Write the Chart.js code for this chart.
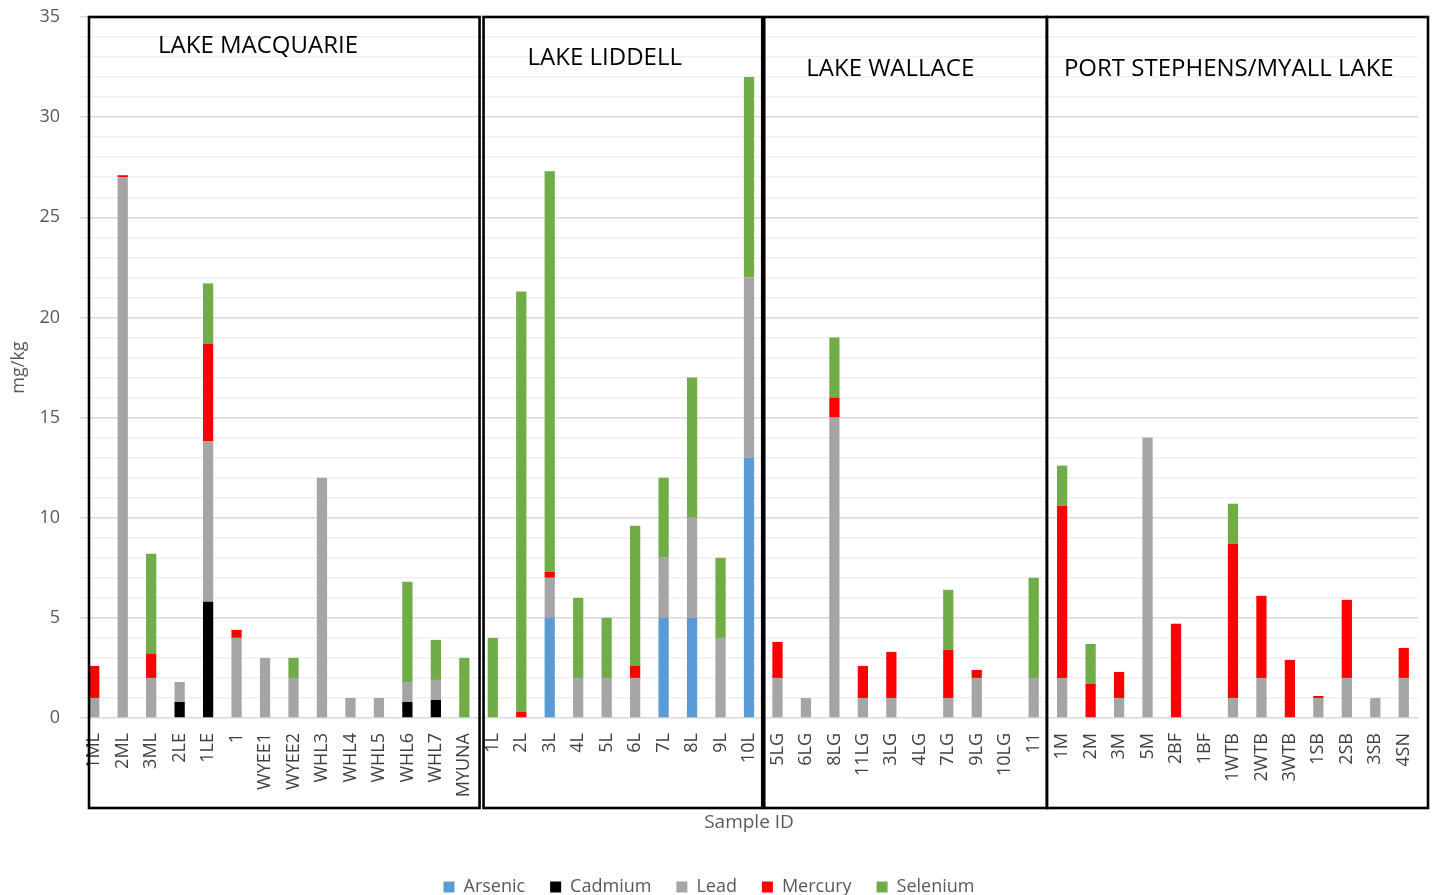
<!DOCTYPE html>
<html>
<head>
<meta charset="utf-8">
<script src="https://cdn.jsdelivr.net/npm/chart.js@4/dist/chart.umd.min.js"></script>
<style>
  html, body { margin: 0; padding: 0; background: #fff; }
  #wrap { width: 1434px; height: 895px; }
</style>
</head>
<body>
<div id="wrap"><canvas id="chart"></canvas></div>
<script>
// sample sites, grouped by lake
const groupNames = ['LAKE MACQUARIE', 'LAKE LIDDELL', 'LAKE WALLACE', 'PORT STEPHENS/MYALL LAKE'];
const groupSizes = [14, 10, 10, 13];

const sampleIds = [
  '1ML', '2ML', '3ML', '2LE', '1LE', '1', 'WYEE1', 'WYEE2', 'WHL3', 'WHL4', 'WHL5', 'WHL6', 'WHL7', 'MYUNA',
  '1L', '2L', '3L', '4L', '5L', '6L', '7L', '8L', '9L', '10L',
  '5LG', '6LG', '8LG', '11LG', '3LG', '4LG', '7LG', '9LG', '10LG', '11',
  '1M', '2M', '3M', '5M', '2BF', '1BF', '1WTB', '2WTB', '3WTB', '1SB', '2SB', '3SB', '4SN',
];

// mg/kg per element, same order as sampleIds
const arsenic = [
  0, 0, 0, 0, 0, 0, 0, 0, 0, 0, 0, 0, 0, 0,
  0, 0, 5, 0, 0, 0, 5, 5, 0, 13,
  0, 0, 0, 0, 0, 0, 0, 0, 0, 0,
  0, 0, 0, 0, 0, 0, 0, 0, 0, 0, 0, 0, 0,
];
const cadmium = [
  0, 0, 0, 0.8, 5.8, 0, 0, 0, 0, 0, 0, 0.8, 0.9, 0,
  0, 0, 0, 0, 0, 0, 0, 0, 0, 0,
  0, 0, 0, 0, 0, 0, 0, 0, 0, 0,
  0, 0, 0, 0, 0, 0, 0, 0, 0, 0, 0, 0, 0,
];
const lead = [
  1, 27, 2, 1, 8, 4, 3, 2, 12, 1, 1, 1, 1, 0,
  0, 0, 2, 2, 2, 2, 3, 5, 4, 9,
  2, 1, 15, 1, 1, 0, 1, 2, 0, 2,
  2, 0, 1, 14, 0, 0, 1, 2, 0, 1, 2, 1, 2,
];
const mercury = [
  1.6, 0.1, 1.2, 0, 4.9, 0.4, 0, 0, 0, 0, 0, 0, 0, 0,
  0, 0.3, 0.3, 0, 0, 0.6, 0, 0, 0, 0,
  1.8, 0, 1, 1.6, 2.3, 0, 2.4, 0.4, 0, 0,
  8.6, 1.7, 1.3, 0, 4.7, 0, 7.7, 4.1, 2.9, 0.1, 3.9, 0, 1.5,
];
const selenium = [
  0, 0, 5, 0, 3, 0, 0, 1, 0, 0, 0, 5, 2, 3,
  4, 21, 20, 4, 3, 7, 4, 7, 4, 10,
  0, 0, 3, 0, 0, 0, 3, 0, 0, 5,
  2, 2, 0, 0, 0, 0, 2, 0, 0, 0, 0, 0, 0,
];

const series = [
  { label: 'Arsenic', data: arsenic, color: '#5B9BD5' },
  { label: 'Cadmium', data: cadmium, color: '#000000' },
  { label: 'Lead', data: lead, color: '#A5A5A5' },
  { label: 'Mercury', data: mercury, color: '#FF0000' },
  { label: 'Selenium', data: selenium, color: '#70AD47' },
];

const axisGrey = '#595959';

// black frames around each lake's samples, with the lake name inside
const lakeFrames = {
  id: 'lakeFrames',
  afterDraw(chart, args, opts) {
    const { ctx, chartArea } = chart;
    const x = chart.scales.x;
    const step = x.getPixelForValue(1) - x.getPixelForValue(0);
    let start = 0;
    ctx.save();
    ctx.strokeStyle = '#000';
    ctx.lineWidth = 2.6;
    ctx.font = opts.font;
    ctx.fillStyle = '#000';
    ctx.textBaseline = 'middle';
    groupNames.forEach((name, i) => {
      const end = start + groupSizes[i] - 1;
      const left = x.getPixelForValue(start) - step / 2 + opts.shift[i][0];
      const right = x.getPixelForValue(end) + step / 2 + opts.shift[i][1];
      const top = chartArea.top;
      const bottom = chartArea.bottom + opts.below;
      ctx.strokeRect(left, top, right - left, bottom - top);
      ctx.textAlign = 'left';
      ctx.fillText(name, left + opts.titleX[i], top + opts.titleY[i]);
      start = end + 1;
    });
    ctx.restore();
  },
};

new Chart(document.getElementById('chart'), {
  type: 'bar',
  data: {
    labels: sampleIds,
    datasets: series.map((s) => ({
      label: s.label,
      data: s.data,
      backgroundColor: s.color,
      borderWidth: 0,
      categoryPercentage: 1,
      barPercentage: 0.36,
    })),
  },
  plugins: [lakeFrames],
  options: {
    responsive: true,
    maintainAspectRatio: false,
    animation: false,
    layout: { padding: { top: 17, right: 16, left: 0, bottom: -11 } },
    plugins: {
      tooltip: { enabled: false },
      legend: {
        position: 'bottom',
        labels: {
          boxWidth: 11,
          boxHeight: 11,
          padding: 25,
          color: axisGrey,
          font: { family: 'Open Sans', size: 18 },
        },
      },
      lakeFrames: {
        font: '24px "Open Sans"',
        below: 90,
        shift: [[9, 1], [5, -1], [1, -1], [-1, 10]],
        titleX: [69, 44, 42, 17],
        titleY: [29, 41, 52, 52],
      },
    },
    scales: {
      x: {
        stacked: true,
        grid: { display: false, drawTicks: false },
        border: { display: false },
        ticks: {
          autoSkip: false,
          minRotation: 90,
          maxRotation: 90,
          padding: 15,
          color: '#404040',
          font: { family: 'Open Sans', size: 18 },
        },
        title: {
          display: true,
          text: 'Sample ID',
          color: axisGrey,
          font: { family: 'Open Sans', size: 19 },
          padding: { top: 0, bottom: 19 },
        },
        afterFit(scale) {
          scale.height = 135;
          scale.paddingLeft = 0;
          scale.paddingRight = 0;
        },
      },
      y: {
        stacked: true,
        min: 0,
        max: 35,
        border: { display: false },
        grid: {
          drawTicks: false,
          color: (c) => (c.tick.value % 5 === 0 ? '#D9D9D9' : '#F0F0F0'),
          lineWidth: 1.5,
        },
        ticks: {
          stepSize: 1,
          autoSkip: false,
          padding: 20,
          color: axisGrey,
          font: { family: 'Open Sans', size: 18 },
          callback: (v) => (v % 5 === 0 ? v : ''),
        },
        title: {
          display: true,
          text: 'mg/kg',
          color: axisGrey,
          font: { family: 'Open Sans', size: 18 },
          padding: { top: 8, bottom: 0 },
        },
        afterFit(scale) {
          scale.width = 80;
          scale.paddingTop = 0;
          scale.paddingBottom = 0;
        },
      },
    },
  },
});
</script>
</body>
</html>
